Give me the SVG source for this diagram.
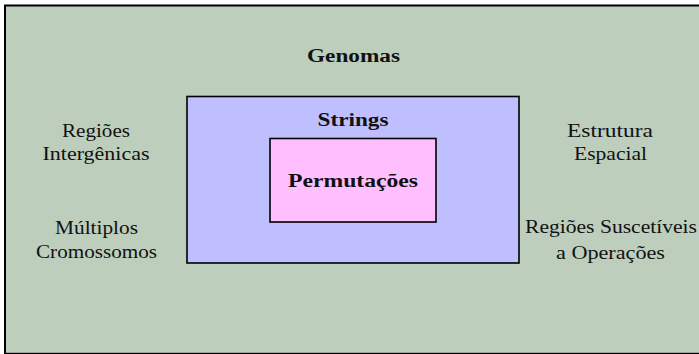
<svg xmlns="http://www.w3.org/2000/svg" width="699" height="354" viewBox="0 0 699 354">
  <style>
    .lbl { font-family: "Liberation Serif", "Times New Roman", serif; font-size: 18.5px; fill: #111; text-anchor: middle; }
    .bold { font-weight: bold; }
    .box { stroke: #000; stroke-width: 1.6; }
  </style>
  <rect width="699" height="354" fill="#ffffff"/>
  <!-- outer region: genomes -->
  <g id="genomas">
    <rect x="5" y="5.5" width="720" height="348.3" fill="#bdcebc" stroke="#000" stroke-width="2"/>
    <text class="lbl bold" x="353.5" y="62" textLength="93" lengthAdjust="spacingAndGlyphs">Genomas</text>
  </g>
  <!-- strings -->
  <g id="strings">
    <rect class="box" x="187" y="96.5" width="332" height="166.5" fill="#bfbfff"/>
    <text class="lbl bold" x="353" y="126" textLength="71" lengthAdjust="spacingAndGlyphs">Strings</text>
  </g>
  <!-- permutations -->
  <g id="permutacoes">
    <rect class="box" x="270" y="138.5" width="166" height="83.5" fill="#ffbfff"/>
    <text class="lbl bold" x="353" y="187" textLength="130" lengthAdjust="spacingAndGlyphs">Permutações</text>
  </g>
  <!-- side labels -->
  <g id="regioes-intergenicas">
    <text class="lbl" x="96" y="137" textLength="68" lengthAdjust="spacingAndGlyphs">Regiões</text>
    <text class="lbl" x="96" y="160" textLength="107" lengthAdjust="spacingAndGlyphs">Intergênicas</text>
  </g>
  <g id="multiplos-cromossomos">
    <text class="lbl" x="96.5" y="234" textLength="83" lengthAdjust="spacingAndGlyphs">Múltiplos</text>
    <text class="lbl" x="96.5" y="258" textLength="121" lengthAdjust="spacingAndGlyphs">Cromossomos</text>
  </g>
  <g id="estrutura-espacial">
    <text class="lbl" x="610" y="137" textLength="86" lengthAdjust="spacingAndGlyphs">Estrutura</text>
    <text class="lbl" x="610.5" y="160" textLength="73" lengthAdjust="spacingAndGlyphs">Espacial</text>
  </g>
  <g id="regioes-suscetiveis">
    <text class="lbl" x="611" y="233" textLength="172" lengthAdjust="spacingAndGlyphs">Regiões Suscetíveis</text>
    <text class="lbl" x="610.5" y="259" textLength="109" lengthAdjust="spacingAndGlyphs">a Operações</text>
  </g>
  <g id="connectors"/>
</svg>
